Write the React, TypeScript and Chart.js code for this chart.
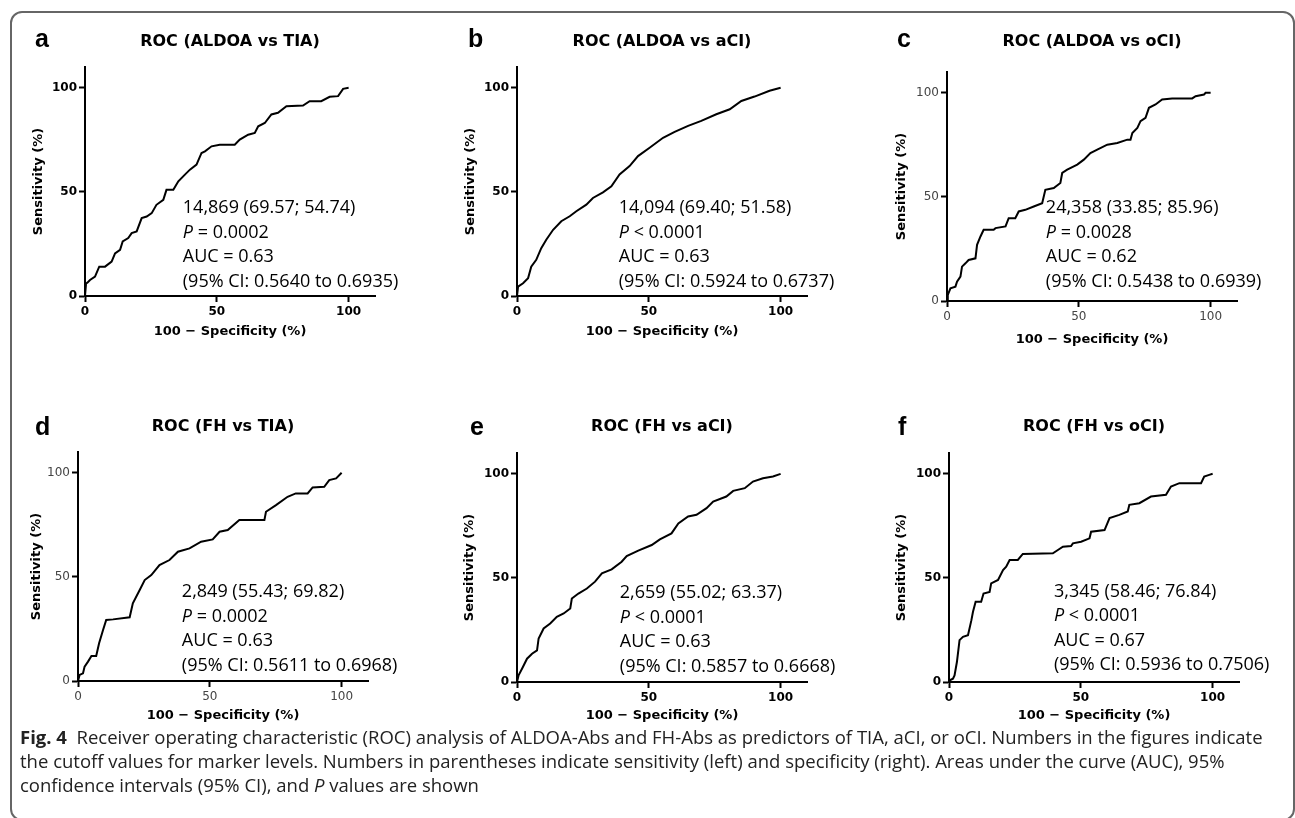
import React, { useEffect, useRef } from 'react';
import { Chart, registerables } from 'chart.js';

Chart.register(...registerables);

// ---------------- DATA ----------------
// a: ROC (ALDOA vs TIA)
const fprA = [0, 0.4, 0.9, 1.9, 3.8, 5.4, 7.6, 10.1, 11.4, 13.3, 14.3, 16.4, 17.7, 19.6, 21.5, 23.4, 25.3, 27.1, 29.7, 30.9, 33.5, 35.4, 37.9, 39.8, 42.3, 44.2, 45.5, 48, 51.1, 56.8, 58.7, 61.9, 64.4, 65.7, 68.2, 70.7, 73.2, 76.4, 82.7, 85.2, 89.6, 92.8, 96, 97.9, 100];
const tprA = [0, 6, 6.4, 7.7, 9.3, 14.1, 14.1, 16.5, 20.5, 22.2, 26.2, 27.8, 30.2, 31, 37.4, 38.2, 39.8, 43.8, 46.2, 51, 51, 55.1, 58.3, 60.7, 63.1, 68.7, 69.5, 71.9, 72.7, 72.7, 75.1, 77.5, 78.3, 81.5, 83.1, 87.2, 88, 91.2, 91.5, 93.6, 93.6, 95.7, 96, 99.5, 100];

// b: ROC (ALDOA vs aCI)
const fprB = [0, 0.4, 2.3, 4.2, 5.4, 7.3, 9.2, 11.1, 13.7, 16.8, 20, 22.5, 26.3, 28.8, 32.6, 35.8, 38.9, 42.7, 45.9, 50.3, 55.4, 59.8, 64.9, 69.9, 75.6, 80.7, 85.1, 90.1, 95.8, 100];
const tprB = [0, 4.5, 6.1, 8.5, 14.1, 17.4, 23, 27, 31.8, 35.9, 38.3, 40.7, 43.9, 47.1, 49.8, 52.7, 58.4, 62.4, 67.2, 71.2, 76, 78.8, 81.7, 84.1, 87.3, 89.7, 93.7, 95.8, 98.6, 100];

// c: ROC (ALDOA vs oCI)
const fprC = [0, 0.3, 1.3, 3.2, 3.8, 5.1, 5.7, 7, 8.2, 10.8, 11.4, 12.7, 13.9, 17.7, 18.4, 22.2, 23.4, 25.9, 27.2, 29.7, 32.9, 36.1, 37.3, 40.5, 43, 43.7, 45.6, 49.4, 51.9, 54.4, 57, 60.8, 64.6, 68.4, 69.6, 70.3, 72.2, 73.4, 75.3, 76.6, 79.1, 81.6, 85.4, 93, 94.3, 97.5, 98.1, 100];
const tprC = [0, 2.9, 6.1, 6.9, 9.3, 11.7, 16.5, 18.1, 19.7, 20.5, 27, 31, 34.2, 34.2, 35, 35.8, 39.8, 39.8, 43, 43.8, 45.4, 47, 53.4, 54.3, 56.7, 61.5, 63.1, 65.5, 67.9, 71.1, 72.7, 75.1, 75.9, 77.5, 77.5, 80.7, 83.1, 86.4, 88, 92.8, 94.4, 96.8, 97.3, 97.3, 98.4, 99.2, 100, 100];

// d: ROC (FH vs TIA)
const fprD = [0, 0.6, 1.9, 2.5, 3.8, 5.1, 6.9, 8, 9.5, 10.7, 13.3, 19.6, 20.8, 23.4, 25.3, 27.8, 30.9, 34.7, 37.9, 42.3, 46.7, 51.1, 53.7, 56.8, 61.2, 70.7, 71.3, 75.1, 79.5, 82.6, 87.1, 89, 93.4, 95.3, 97.9, 100];
const tprD = [0, 2.9, 3.7, 6.9, 9.3, 12, 12, 18.1, 24.5, 29.3, 29.6, 30.6, 37.3, 43.7, 48.5, 50.9, 55.7, 58.1, 62.1, 63.7, 66.9, 68, 71.7, 72.5, 77.3, 77.3, 81.3, 84.5, 88.5, 90.1, 90.1, 93, 93.3, 96.5, 97.3, 100];

// e: ROC (FH vs aCI)
const fprE = [0, 0.6, 1.9, 3.8, 5.7, 7.6, 8.2, 10.1, 12.6, 15.1, 17.7, 20.2, 20.8, 23.3, 26.5, 29.6, 32.2, 35.9, 39.7, 41.6, 46, 51.1, 54.2, 58.6, 61.2, 64.9, 68.1, 71.9, 74.4, 79.4, 82, 86.4, 89.5, 93.3, 97.1, 100];
const tprE = [0, 3.2, 6.4, 11.2, 13.6, 15.2, 20.9, 25.7, 28.1, 31.3, 32.9, 35.3, 40.1, 42.5, 44.9, 48.2, 52.2, 54.1, 57.8, 60.5, 63.1, 65.8, 68.5, 71.4, 76.2, 79.5, 80.3, 83.5, 86.7, 89.1, 91.8, 93.1, 96.3, 97.9, 98.7, 100];

// f: ROC (FH vs oCI)
const fprF = [0, 0.3, 1.5, 2.1, 3, 4, 5.3, 7.2, 8.5, 9.1, 10.1, 12.2, 13.1, 15.4, 16, 18.6, 20.5, 21.7, 23, 26.1, 28, 39.4, 41.3, 43.2, 46.3, 47, 50.1, 53.3, 53.9, 59, 60.9, 64.6, 67.8, 68.4, 72.2, 76.6, 82.3, 84.2, 87.4, 95.6, 96.8, 98.7, 100];
const tprF = [0, 0.8, 1.6, 3.2, 9.6, 20.1, 21.7, 22.5, 29.7, 33.7, 38.5, 38.5, 42.5, 43.3, 47.4, 49, 53.8, 55.4, 58.6, 58.6, 61.5, 61.8, 63.4, 65, 65.3, 66.6, 67.4, 69, 72.2, 73, 78.7, 80.3, 81.9, 85.1, 85.9, 89.1, 89.9, 93.9, 95.5, 95.5, 98.7, 99.5, 100];

const panelLetters = ['a', 'b', 'c', 'd', 'e', 'f'];
const panelTitles = ['ROC (ALDOA vs TIA)', 'ROC (ALDOA vs aCI)', 'ROC (ALDOA vs oCI)', 'ROC (FH vs TIA)', 'ROC (FH vs aCI)', 'ROC (FH vs oCI)'];
const cutoffTexts = ['14,869 (69.57; 54.74)', '14,094 (69.40; 51.58)', '24,358 (33.85; 85.96)', '2,849 (55.43; 69.82)', '2,659 (55.02; 63.37)', '3,345 (58.46; 76.84)'];
const pTexts = [' = 0.0002', ' < 0.0001', ' = 0.0028', ' = 0.0002', ' < 0.0001', ' < 0.0001'];
const aucTexts = ['AUC = 0.63', 'AUC = 0.63', 'AUC = 0.62', 'AUC = 0.63', 'AUC = 0.63', 'AUC = 0.67'];
const ciTexts = ['(95% CI: 0.5640 to 0.6935)', '(95% CI: 0.5924 to 0.6737)', '(95% CI: 0.5438 to 0.6939)', '(95% CI: 0.5611 to 0.6968)', '(95% CI: 0.5857 to 0.6668)', '(95% CI: 0.5936 to 0.7506)'];
const tickValues = [0, 50, 100];
const axisMax = 110;
const xAxisTitle = '100 \u2212 Specificity (%)';
const yAxisTitle = 'Sensitivity (%)';

const fprSeries = [fprA, fprB, fprC, fprD, fprE, fprF];
const tprSeries = [tprA, tprB, tprC, tprD, tprE, tprF];

// ---------------- LAYOUT ----------------
const CW = 410;
const CH = 339;
const Y_W = 70;
const X_H = 50;
const PAD_T = 60;
const AREA_W = 290;
const AREA_H = 229;
const PAD_R = CW - Y_W - AREA_W;

const panelLayout = [
  { ox: 85, oy: 296, light: false, titleY: 42, letterX: 35, letterY: 47, annX: 37.1, annY: 42.3, xTitleOff: 36, yTitleOff: 46 },
  { ox: 517, oy: 296, light: false, titleY: 42, letterX: 468, letterY: 47, annX: 38.6, annY: 42.3, xTitleOff: 36, yTitleOff: 46 },
  { ox: 947, oy: 301, light: true, titleY: 42, letterX: 897, letterY: 47, annX: 37.5, annY: 44.7, xTitleOff: 39, yTitleOff: 45 },
  { ox: 78, oy: 681, light: true, titleY: 427, letterX: 35, letterY: 435, annX: 39.4, annY: 42.8, xTitleOff: 35, yTitleOff: 41 },
  { ox: 517, oy: 682, light: false, titleY: 427, letterX: 470, letterY: 435, annX: 39, annY: 42.8, xTitleOff: 34, yTitleOff: 47 },
  { ox: 949, oy: 682, light: false, titleY: 427, letterX: 898, letterY: 435, annX: 39.8, annY: 43.3, xTitleOff: 34, yTitleOff: 47 },
];

const AXIS_FONT = 'DejaVu Sans';
const TEXT_FONT = '"Open Sans", "Noto Sans", sans-serif';

function RocPanel({ idx }: { idx: number }) {
  const ref = useRef<HTMLCanvasElement | null>(null);
  const L = panelLayout[idx];
  const left = L.ox - Y_W;
  const top = L.oy - AREA_H - PAD_T;

  useEffect(() => {
    if (!ref.current) return;
    const pts = fprSeries[idx].map((x, i) => ({ x, y: tprSeries[idx][i] }));
    const tickFont = L.light
      ? { family: AXIS_FONT, size: 12, weight: 'normal' as const }
      : { family: AXIS_FONT, size: 12, weight: 'bold' as const };
    const tickColor = L.light ? '#444' : '#000';
    const titleFont = { family: AXIS_FONT, size: 13, weight: 'bold' as const, lineHeight: 1.2 };
    const lh = 13 * 1.2;

    const textPlugin = {
      id: 'rocText' + idx,
      afterDraw(chart: any) {
        const { ctx, chartArea, scales } = chart;
        ctx.save();
        ctx.fillStyle = '#000';
        // panel letter
        ctx.font = 'bold 25px "Liberation Sans", Arial, sans-serif';
        ctx.textAlign = 'left';
        ctx.textBaseline = 'alphabetic';
        ctx.fillText(panelLetters[idx], L.letterX - left, L.letterY - top);
        // title
        ctx.font = `bold 16px "${AXIS_FONT}"`;
        ctx.textAlign = 'center';
        ctx.textBaseline = 'middle';
        ctx.fillText(panelTitles[idx], (chartArea.left + chartArea.right) / 2, L.titleY - top);
        // annotation
        const x0 = scales.x.getPixelForValue(L.annX);
        const y0 = scales.y.getPixelForValue(L.annY);
        const step = 24.5;
        ctx.textAlign = 'left';
        ctx.textBaseline = 'middle';
        ctx.font = `18px ${TEXT_FONT}`;
        ctx.fillText(cutoffTexts[idx], x0, y0);
        ctx.font = `italic 18px ${TEXT_FONT}`;
        ctx.fillText('P', x0, y0 + step);
        const pw = ctx.measureText('P').width;
        ctx.font = `18px ${TEXT_FONT}`;
        ctx.fillText(pTexts[idx], x0 + pw, y0 + step);
        ctx.fillText(aucTexts[idx], x0, y0 + step * 2);
        ctx.fillText(ciTexts[idx], x0, y0 + step * 3);
        ctx.restore();
      },
    };

    const gridCfg = {
      display: true,
      drawOnChartArea: false,
      drawTicks: true,
      tickLength: 6,
      tickWidth: 2,
      tickColor: '#000',
      color: '#000',
    };

    const chart = new Chart(ref.current, {
      type: 'scatter',
      data: {
        datasets: [
          {
            data: pts,
            showLine: true,
            borderColor: '#000',
            borderWidth: 2,
            pointRadius: 0,
            tension: 0,
            fill: false,
          },
        ],
      },
      options: {
        responsive: false,
        animation: false,
        events: [],
        layout: { padding: { left: 0, top: PAD_T, right: PAD_R, bottom: 0 } },
        plugins: { legend: { display: false }, tooltip: { enabled: false }, title: { display: false } },
        scales: {
          x: {
            type: 'linear',
            min: 0,
            max: axisMax,
            afterBuildTicks: (s: any) => {
              s.ticks = tickValues.map((v) => ({ value: v }));
            },
            afterFit: (s: any) => {
              s.height = X_H;
            },
            ticks: { font: tickFont, color: tickColor, padding: 3, maxRotation: 0, autoSkip: false, includeBounds: false },
            grid: gridCfg,
            border: { display: true, color: '#000', width: 2 },
            title: {
              display: true,
              text: xAxisTitle,
              color: '#000',
              font: titleFont,
              padding: { top: 0, bottom: X_H - lh / 2 - L.xTitleOff },
            },
          },
          y: {
            type: 'linear',
            min: 0,
            max: axisMax,
            afterBuildTicks: (s: any) => {
              s.ticks = tickValues.map((v) => ({ value: v }));
            },
            afterFit: (s: any) => {
              s.width = Y_W;
            },
            ticks: { font: tickFont, color: tickColor, padding: 2, autoSkip: false, includeBounds: false },
            grid: gridCfg,
            border: { display: true, color: '#000', width: 2 },
            title: {
              display: true,
              text: yAxisTitle,
              color: '#000',
              font: titleFont,
              padding: { top: Y_W - L.yTitleOff - lh / 2, bottom: 0 },
            },
          },
        },
      },
      plugins: [textPlugin],
    } as any);
    return () => chart.destroy();
  }, [idx]);

  return (
    <canvas
      ref={ref}
      width={CW}
      height={CH}
      style={{ position: 'absolute', left, top, width: CW, height: CH }}
    />
  );
}

export default function App() {
  return (
    <div
      style={{
        position: 'absolute',
        left: 0,
        top: 0,
        width: 1295,
        height: 818,
        overflow: 'hidden',
        background: '#fff',
      }}
    >
      <div
        style={{
          position: 'absolute',
          left: 10,
          top: 11,
          width: 1281,
          height: 806,
          border: '2px solid #666',
          borderRadius: 12,
        }}
      />
      {panelLayout.map((_, i) => (
        <RocPanel key={i} idx={i} />
      ))}
      <div
        style={{
          position: 'absolute',
          left: 20,
          top: 725,
          fontFamily: '"Open Sans", "Noto Sans", sans-serif',
          fontSize: 18.5,
          lineHeight: '24px',
          color: '#222',
          whiteSpace: 'nowrap',
        }}
      >
        <div>
          <b>Fig. 4</b>&nbsp; Receiver operating characteristic (ROC) analysis of ALDOA-Abs and FH-Abs as predictors of TIA, aCI, or oCI. Numbers in the figures indicate
        </div>
        <div>
          the cutoff values for marker levels. Numbers in parentheses indicate sensitivity (left) and specificity (right). Areas under the curve (AUC), 95%
        </div>
        <div>
          confidence intervals (95% CI), and <i>P</i> values are shown
        </div>
      </div>
    </div>
  );
}
